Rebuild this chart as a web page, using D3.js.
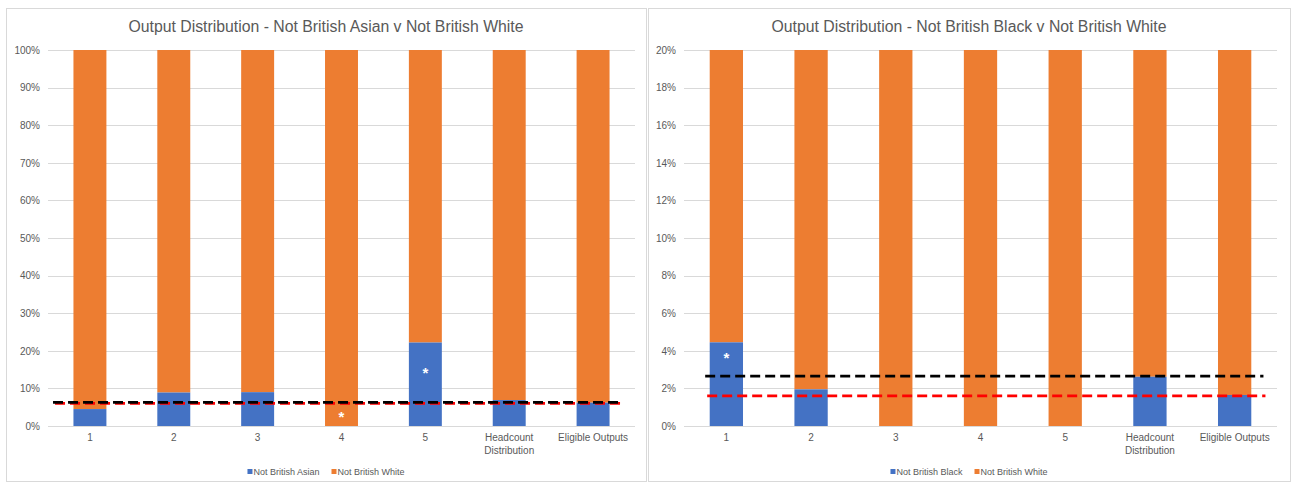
<!DOCTYPE html>
<html>
<head>
<meta charset="utf-8">
<script src="https://cdn.jsdelivr.net/npm/d3@7"></script>
<style>
  html, body { margin: 0; padding: 0; background: #fff; }
  svg { display: block; font-family: "Liberation Sans", Arial, sans-serif; }
</style>
</head>
<body>
<svg id="chart" width="1296" height="484"></svg>
<script>
// ---------- data ----------
const categories = ["1", "2", "3", "4", "5", "Headcount Distribution", "Eligible Outputs"];

// Left chart: Not British Asian v Not British White (%)
const asianShare      = [4.5, 8.9, 9.0, 0, 22.2, 6.9, 6.2];
const whiteShareLeft  = [95.5, 91.1, 91.0, 100, 77.8, 93.1, 93.8];
const leftTicks       = [0, 10, 20, 30, 40, 50, 60, 70, 80, 90, 100];
const leftBlackLine   = 6.3;
const leftRedLine     = 6.05;
const leftStars       = [{cat: "4", value: 3.0}, {cat: "5", value: 14.5}];

// Right chart: Not British Black v Not British White (%)
const blackShare      = [4.45, 1.95, 0, 0, 0, 2.62, 1.65];
const whiteShareRight = [95.55, 98.05, 100, 100, 100, 97.38, 98.35];
const rightTicks      = [0, 2, 4, 6, 8, 10, 12, 14, 16, 18, 20];
const rightBlackLine  = 2.65;
const rightRedLine    = 1.6;
const rightStars      = [{cat: "1", value: 3.7}];

const BLUE = "#4472C4", ORANGE = "#ED7D31", GRID = "#d9d9d9", TXT = "#595959";

const svg = d3.select("#chart");

function drawPanel(cfg) {
  const g = svg.append("g");
  // panel border
  g.append("rect")
    .attr("x", cfg.box[0] + 0.5).attr("y", cfg.box[1] + 0.5)
    .attr("width", cfg.box[2] - cfg.box[0]).attr("height", cfg.box[3] - cfg.box[1])
    .attr("fill", "#fff").attr("stroke", GRID).attr("stroke-width", 1);

  const x = d3.scaleBand().domain(categories)
    .range([cfg.plot[0], cfg.plot[1]])
    .paddingInner(0.607).paddingOuter(0.3035);
  const y = d3.scaleLinear().domain([0, cfg.max])
    .range([cfg.plot[3], cfg.plot[2]]).clamp(true);

  // title
  g.append("text")
    .attr("x", (cfg.box[0] + cfg.box[2]) / 2).attr("y", 32)
    .attr("text-anchor", "middle").attr("fill", TXT)
    .attr("font-size", 15.8).text(cfg.title);

  // gridlines
  g.append("g").selectAll("line").data(cfg.ticks).join("line")
    .attr("x1", cfg.plot[0]).attr("x2", cfg.plot[1])
    .attr("y1", d => Math.round(y(d)) + 0.5).attr("y2", d => Math.round(y(d)) + 0.5)
    .attr("stroke", GRID).attr("stroke-width", 1);

  // y axis labels
  const yAxis = d3.axisLeft(y).tickValues(cfg.ticks).tickSize(0).tickPadding(8)
    .tickFormat(d => d + "%");
  const ya = g.append("g").attr("transform", `translate(${cfg.plot[0]},0)`).call(yAxis);
  ya.select(".domain").remove();
  ya.selectAll("text").attr("fill", TXT).attr("font-size", 10)
    .attr("font-family", "Liberation Sans, Arial, sans-serif");

  // stacked bars
  const rows = categories.map((c, i) => ({cat: c, a: cfg.minor[i], w: cfg.white[i]}));
  g.append("g").selectAll("rect").data(rows).join("rect")
    .attr("x", d => x(d.cat)).attr("width", x.bandwidth())
    .attr("y", d => y(d.a + d.w)).attr("height", d => y(d.a) - y(d.a + d.w))
    .attr("fill", ORANGE);
  g.append("g").selectAll("rect").data(rows).join("rect")
    .attr("x", d => x(d.cat)).attr("width", x.bandwidth())
    .attr("y", d => y(d.a)).attr("height", d => y(0) - y(d.a))
    .attr("fill", BLUE);

  // x axis labels
  const xAxis = d3.axisBottom(x).tickSize(0).tickPadding(8);
  const xa = g.append("g").attr("transform", `translate(0,${cfg.plot[3]})`).call(xAxis);
  xa.select(".domain").remove();
  xa.selectAll("text").attr("fill", TXT).attr("font-size", 10)
    .attr("font-family", "Liberation Sans, Arial, sans-serif")
    .each(function(d) {
      const t = d3.select(this);
      if (d === "Headcount Distribution") {
        t.text(null);
        t.append("tspan").attr("x", 0).attr("dy", "0.71em").text("Headcount");
        t.append("tspan").attr("x", 0).attr("dy", "1.3em").text("Distribution");
        t.attr("dy", null);
      }
    });

  // reference lines
  const step = x.step();
  const lx1 = cfg.plot[0] + step * cfg.lineFrac[0];
  const lx2 = cfg.plot[1] - step * cfg.lineFrac[1];
  g.append("line")
    .attr("x1", lx1 + 2).attr("x2", lx2 + 2)
    .attr("y1", y(cfg.red)).attr("y2", y(cfg.red))
    .attr("stroke", "#ff0000").attr("stroke-width", 2.75)
    .attr("stroke-dasharray", "10,5");
  g.append("line")
    .attr("x1", lx1).attr("x2", lx2)
    .attr("y1", y(cfg.black)).attr("y2", y(cfg.black))
    .attr("stroke", "#000").attr("stroke-width", 2.75)
    .attr("stroke-dasharray", "10,5");

  // stars
  g.append("g").selectAll("text").data(cfg.stars).join("text")
    .attr("x", d => x(d.cat) + x.bandwidth() / 2)
    .attr("y", d => y(d.value) + 7)
    .attr("text-anchor", "middle").attr("fill", "#fff")
    .attr("font-size", 15).attr("font-weight", "bold").text("*");

  // legend
  const lg = g.append("g");
  const items = cfg.legend;
  let cx = 0;
  const parts = [];
  items.forEach(it => {
    const sq = lg.append("rect").attr("width", 5).attr("height", 5).attr("fill", it.color);
    const tx = lg.append("text").attr("font-size", 9).attr("fill", TXT).text(it.label);
    parts.push({sq, tx, off: cx});
    const w = tx.node().getComputedTextLength();
    cx += 6 + w + 12;
  });
  const total = cx - 12;
  const startX = (cfg.box[0] + cfg.box[2]) / 2 - total / 2;
  parts.forEach(p => {
    p.sq.attr("x", startX + p.off).attr("y", 469);
    p.tx.attr("x", startX + p.off + 6).attr("y", 475);
  });
}

drawPanel({
  box: [6, 8, 646, 481],
  plot: [48, 635, 50, 426],
  max: 100, ticks: leftTicks,
  title: "Output Distribution - Not British Asian v Not British White",
  minor: asianShare, white: whiteShareLeft,
  black: leftBlackLine, red: leftRedLine,
  lineFrac: [0.06, 0.18],
  stars: leftStars,
  legend: [{label: "Not British Asian", color: BLUE}, {label: "Not British White", color: ORANGE}]
});

drawPanel({
  box: [648, 8, 1290, 481],
  plot: [684, 1277, 50, 426],
  max: 20, ticks: rightTicks,
  title: "Output Distribution - Not British Black v Not British White",
  minor: blackShare, white: whiteShareRight,
  black: rightBlackLine, red: rightRedLine,
  lineFrac: [0.25, 0.16],
  stars: rightStars,
  legend: [{label: "Not British Black", color: BLUE}, {label: "Not British White", color: ORANGE}]
});
</script>
</body>
</html>
